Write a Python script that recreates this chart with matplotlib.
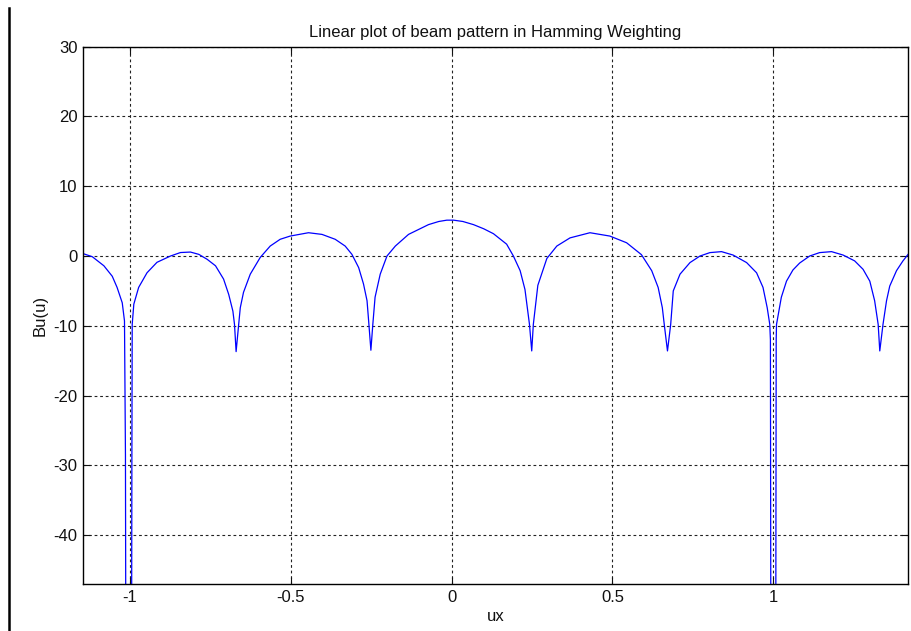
import matplotlib
matplotlib.use("Agg")
import matplotlib.pyplot as plt
from matplotlib.lines import Line2D

plt.rcParams['font.family'] = ['Liberation Sans', 'DejaVu Sans']
plt.rcParams['axes.unicode_minus'] = False

# beam pattern samples (ux, dB)
ux = [-1.146, -1.117, -1.081, -1.055, -1.040, -1.024, -1.017, -1.014, -1.003, -0.994,
      -0.993, -0.988, -0.973, -0.947, -0.916, -0.874, -0.843, -0.812, -0.786, -0.760,
      -0.734, -0.709, -0.693, -0.680, -0.675, -0.670, -0.662, -0.657, -0.647, -0.626,
      -0.595, -0.564, -0.533, -0.502, -0.445, -0.403, -0.362, -0.331, -0.310, -0.289,
      -0.274, -0.263, -0.258, -0.251, -0.245, -0.238, -0.222, -0.201, -0.175, -0.134,
      -0.103, -0.072, -0.040, -0.015, 0.006, 0.035, 0.068, 0.100, 0.130, 0.171,
      0.192, 0.213, 0.228, 0.242, 0.249, 0.254, 0.268, 0.296, 0.327, 0.368,
      0.430, 0.492, 0.544, 0.590, 0.622, 0.642, 0.655, 0.661, 0.671, 0.681,
      0.689, 0.710, 0.741, 0.772, 0.803, 0.839, 0.875, 0.917, 0.948, 0.968,
      0.981, 0.989, 0.991, 1.000, 1.009, 1.010, 1.025, 1.041, 1.061, 1.082,
      1.113, 1.144, 1.181, 1.217, 1.253, 1.279, 1.300, 1.315, 1.326, 1.331,
      1.341, 1.352, 1.362, 1.383, 1.403, 1.419]
bu = [0.35, -0.1, -1.4, -2.9, -4.5, -6.7, -9.3, -28.5, -300.0, -28.5,
      -9.8, -6.9, -4.5, -2.4, -0.9, 0.0, 0.5, 0.57, 0.24, -0.47,
      -1.4, -3.3, -5.5, -7.9, -9.8, -13.7, -9.8, -7.4, -5.2, -2.6,
      -0.2, 1.43, 2.4, 2.86, 3.34, 3.1, 2.4, 1.43, 0.24, -1.66,
      -4.0, -6.4, -9.3, -13.5, -9.8, -5.9, -2.6, 0.0, 1.43, 3.1,
      3.8, 4.5, 4.95, 5.14, 5.14, 4.95, 4.5, 3.9, 3.2, 1.7,
      0.0, -2.1, -4.8, -9.8, -13.6, -9.8, -4.2, -0.35, 1.43, 2.6,
      3.34, 2.86, 1.9, 0.2, -2.1, -4.5, -7.4, -9.8, -13.6, -9.8,
      -5.0, -2.6, -0.94, 0.0, 0.49, 0.63, 0.14, -0.94, -2.4, -4.5,
      -7.4, -9.8, -12.0, -300.0, -12.0, -9.8, -5.9, -3.6, -2.0, -1.0,
      0.0, 0.49, 0.63, 0.14, -0.7, -1.9, -3.6, -6.4, -9.8, -13.6,
      -9.8, -6.4, -4.3, -2.1, -0.7, 0.24]

xticks = [-1, -0.5, 0, 0.5, 1]
xticklabels = ['-1', '-0.5', '0', '0.5', '1']
yticks = [-40, -30, -20, -10, 0, 10, 20, 30]

fig = plt.figure(figsize=(9.11, 6.31), dpi=100)
ax = fig.add_axes([0.0911, 0.0745, 0.9057, 0.8515])

ax.plot(ux, bu, color='#0000ff', lw=0.9)

ax.set_xlim(-1.146, 1.419)
ax.set_ylim(-47, 30)
ax.set_xticks(xticks)
ax.set_xticklabels(xticklabels)
ax.set_yticks(yticks)
ax.tick_params(direction='in', length=5, width=0.8, top=True, right=True,
               labelsize=12, pad=4, colors='#111111')
ax.grid(True, color='#222222', lw=0.8, ls=(0, (2.5, 2.5)))
for s in ax.spines.values():
    s.set_linewidth(1.0)

ax.set_title('Linear plot of beam pattern in Hamming Weighting', fontsize=12,
             pad=7, color='#111111')
ax.set_xlabel('ux', fontsize=12, labelpad=3, color='#111111')
ax.set_ylabel('Bu(u)', fontsize=12, labelpad=4, color='#111111')

# the black bar down the left edge of the screenshot
fig.add_artist(Line2D([0.0095, 0.0095], [0.0, 0.988], color='black', lw=1.8,
                      transform=fig.transFigure))

fig.savefig('out.png', dpi=100)
